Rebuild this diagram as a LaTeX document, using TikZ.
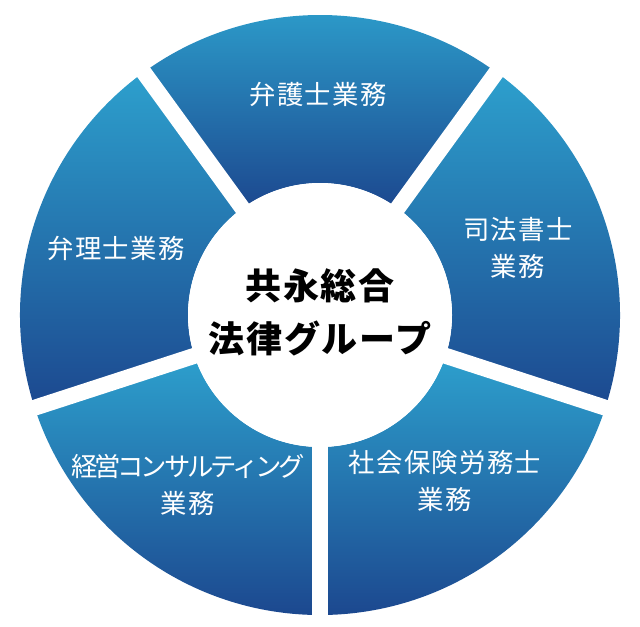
\documentclass[tikz,border=0pt]{standalone}
\usepackage{fontspec}
\usepackage{xcolor}
\usepackage{tikz}
\usetikzlibrary{positioning}
\newfontfamily\jpfont[LetterSpace=5]{Noto Sans CJK JP}
\definecolor{segtop}{RGB}{45,160,205}
\definecolor{segbot}{RGB}{28,72,143}

\begin{document}
\begin{tikzpicture}[
  seg/.style={top color=segtop, bottom color=segbot, draw=none},
  gap/.style={white, line width=0.32cm},
  lbl/.style={text=white, align=center, font=\jpfont\fontsize{15}{21.5}\selectfont},
  hub/.style={text=black, align=center, font=\jpfont\bfseries\fontsize{20.5}{30}\selectfont}
]
  \useasboundingbox (-6.4,-6.22) rectangle (6.4,6.3);
  \foreach \a [evaluate=\a as \s using \a-36, evaluate=\a as \e using \a+36] in {90,18,-54,-126,162}
    \shade[seg] (\s:2.64) -- (\s:6) arc[start angle=\s, end angle=\e, radius=6]
      -- (\e:2.64) arc[start angle=\e, end angle=\s, radius=2.64] -- cycle;
  \foreach \g in {54,126,198,270,342}
    \draw[gap] (0,0) -- (\g:6.3);
  \fill[white] (0,0) circle (2.64);

  \node[hub] (group)    at (0,0.05)     {共永総合\\法律グループ};
  \node[lbl] (lawyer)   at (-0.04,4.42) {弁護士業務};
  \node[lbl] (judicial) at (3.96,1.34)  {司法書士\\業務};
  \node[lbl] (patent)   at (-4.08,1.34) {弁理士業務};
  \node[lbl] (consult)  at (-2.64,-3.4) {{\addfontfeature{LetterSpace=-12}経営コンサルティング}\\業務};
  \node[lbl] (labor)    at (2.5,-3.32)  {社会保険労務士\\業務};
\end{tikzpicture}
\end{document}
